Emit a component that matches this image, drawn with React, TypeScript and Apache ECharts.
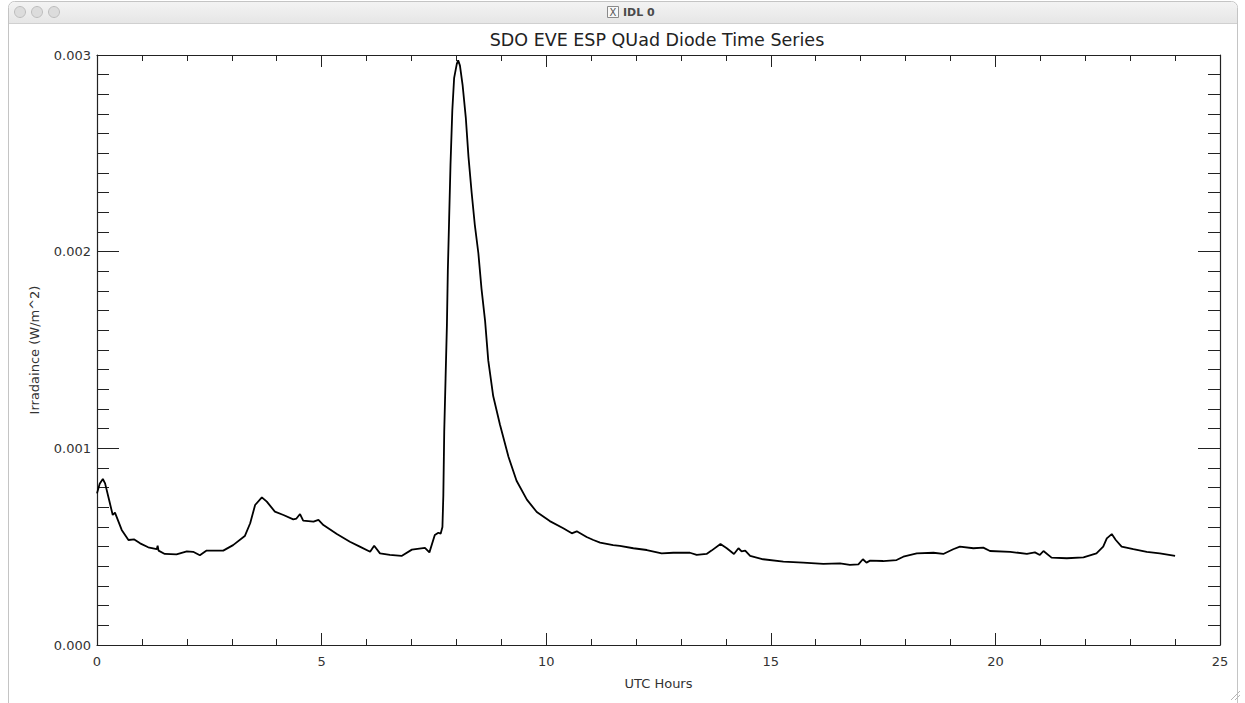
import React, { useEffect, useRef } from "react";
import * as echarts from "echarts";

const hours: number[] = [
  0.0, 0.06, 0.13, 0.18, 0.27, 0.35, 0.4, 0.55, 0.7, 0.83, 0.96, 1.14, 1.33, 1.35, 1.37, 1.51, 1.77, 2.0, 2.14, 2.29,
  2.44, 2.81, 3.03, 3.29, 3.41, 3.52, 3.67, 3.78, 3.96, 4.15, 4.37, 4.44, 4.52, 4.59, 4.82, 4.93, 5.04, 5.34, 5.63,
  5.85, 6.08, 6.17, 6.3, 6.52, 6.78, 7.01, 7.3, 7.4, 7.52, 7.6, 7.65, 7.69, 7.71, 7.73, 7.76, 7.79, 7.81, 7.84, 7.87,
  7.91, 7.95, 8.01, 8.04, 8.08, 8.14, 8.21, 8.27, 8.34, 8.41, 8.49, 8.56, 8.64, 8.71, 8.82, 8.97, 9.16, 9.34, 9.57,
  9.79, 10.08, 10.38, 10.57, 10.68, 10.9, 11.05, 11.2, 11.49, 11.64, 11.94, 12.24, 12.57, 12.83, 13.2, 13.35, 13.57,
  13.68, 13.88, 14.02, 14.18, 14.28, 14.35, 14.43, 14.54, 14.83, 15.28, 15.72, 16.17, 16.54, 16.76, 16.95, 17.05,
  17.13, 17.21, 17.5, 17.8, 17.95, 18.25, 18.62, 18.84, 19.06, 19.21, 19.51, 19.73, 19.88, 20.33, 20.7, 20.88, 20.99,
  21.07, 21.25, 21.59, 21.96, 22.25, 22.4, 22.48, 22.59, 22.68, 22.81, 23.07, 23.37, 23.66, 24.0,
];

const irradiance: number[] = [
  0.000771, 0.00082, 0.000844, 0.000822, 0.000737, 0.000661, 0.000673, 0.000585, 0.000534, 0.000537, 0.000517,
  0.000497, 0.000487, 0.000505, 0.00048, 0.000463, 0.000461, 0.000476, 0.000474, 0.000456, 0.00048, 0.00048,
  0.000508, 0.000554, 0.000619, 0.000712, 0.000751, 0.000729, 0.000678, 0.000661, 0.000639, 0.000643, 0.000666,
  0.000632, 0.000627, 0.000636, 0.00061, 0.000564, 0.000525, 0.0005, 0.000474, 0.000505, 0.000466, 0.000458,
  0.000453, 0.000485, 0.000494, 0.000471, 0.000559, 0.000571, 0.000566, 0.0006, 0.00076, 0.001084, 0.001357,
  0.001629, 0.001902, 0.002174, 0.002446, 0.002719, 0.002882, 0.002955, 0.002973, 0.002946, 0.002845, 0.002682,
  0.002482, 0.002301, 0.002138, 0.001992, 0.001811, 0.001647, 0.001447, 0.001266, 0.001121, 0.000957, 0.000835,
  0.000739, 0.000676, 0.00063, 0.000594, 0.000568, 0.000578, 0.000549, 0.000534, 0.000521, 0.000508, 0.000504,
  0.000492, 0.000483, 0.000466, 0.000469, 0.000469, 0.000458, 0.000463, 0.00048, 0.000514, 0.000492, 0.000463,
  0.000492, 0.000476, 0.00048, 0.000453, 0.000436, 0.000424, 0.000419, 0.000412, 0.000415, 0.000407, 0.00041,
  0.000436, 0.000419, 0.000429, 0.000427, 0.000432, 0.000449, 0.000466, 0.000469, 0.000463, 0.000487, 0.0005,
  0.000492, 0.000495, 0.000478, 0.000474, 0.000463, 0.000471, 0.000458, 0.000478, 0.000444, 0.000441, 0.000446,
  0.000466, 0.0005, 0.000542, 0.000564, 0.000534, 0.0005, 0.000487, 0.000474, 0.000466, 0.000453,
];

const xTicks = { min: 0, max: 25, interval: 5 };
const yTicks = { min: 0, max: 0.003, interval: 0.001 };

const titleText = "SDO EVE ESP QUad Diode Time Series";
const windowTitle = "IDL 0";
const xName = "UTC Hours";
const yName = "Irradaince (W/m^2)";

const FONT = "DejaVu Sans";
const AX = "#222";

export default function App() {
  const ref = useRef<HTMLDivElement>(null);
  useEffect(() => {
    if (!ref.current) return;
    const chart = echarts.init(ref.current, null, { renderer: "svg" });
    const data = hours.map((h, i) => [h, irradiance[i]]);
    const xBase = (show: boolean, pos: "bottom" | "top") => ({
      type: "value",
      position: pos,
      min: xTicks.min,
      max: xTicks.max,
      interval: xTicks.interval,
      axisLine: { show: true, onZero: false, lineStyle: { color: AX, width: 1.2 } },
      axisTick: { show: true, inside: true, length: 12, lineStyle: { color: AX, width: 1 } },
      minorTick: { show: true, splitNumber: 5, length: 6, lineStyle: { color: AX, width: 1 } },
      splitLine: { show: false },
      axisLabel: {
        show,
        margin: 10,
        color: "#333",
        fontSize: 13,
        fontFamily: FONT,
      },
      name: show ? xName : "",
      nameLocation: "middle",
      nameGap: 32,
      nameTextStyle: { color: "#333", fontSize: 13, fontFamily: FONT },
    });
    const yBase = (show: boolean, pos: "left" | "right") => ({
      type: "value",
      position: pos,
      min: yTicks.min,
      max: yTicks.max,
      interval: yTicks.interval,
      axisLine: { show: true, onZero: false, lineStyle: { color: AX, width: 1.2 } },
      axisTick: { show: true, inside: true, length: 22, lineStyle: { color: AX, width: 1 } },
      minorTick: { show: true, splitNumber: 10, length: 12, lineStyle: { color: AX, width: 1 } },
      splitLine: { show: false },
      axisLabel: {
        show,
        margin: 6,
        color: "#333",
        fontSize: 13,
        fontFamily: FONT,
        formatter: (v: number) => v.toFixed(3),
      },
      name: show ? yName : "",
      nameLocation: "middle",
      nameGap: 56,
      nameRotate: 90,
      nameTextStyle: { color: "#333", fontSize: 13, fontFamily: FONT },
    });
    chart.setOption({
      animation: false,
      backgroundColor: "#ffffff",
      title: {
        text: titleText,
        left: 652,
        textAlign: "center",
        top: 26,
        textStyle: { color: "#222", fontSize: 17.5, fontWeight: "normal", fontFamily: FONT },
      },
      grid: { left: 97, right: 25, top: 55, bottom: 58, containLabel: false },
      xAxis: [xBase(true, "bottom"), xBase(false, "top")],
      yAxis: [yBase(true, "left"), yBase(false, "right")],
      series: [
        {
          type: "line",
          data,
          xAxisIndex: 0,
          yAxisIndex: 0,
          showSymbol: false,
          symbol: "none",
          lineStyle: { color: "#000", width: 1.8 },
        },
      ],
      graphic: [
        {
          type: "rect",
          shape: { x: 8.5, y: 1.5, width: 1229, height: 720, r: [6, 6, 0, 0] },
          style: { fill: "none", stroke: "#c4c4c4", lineWidth: 1 },
          silent: true,
        },
        {
          type: "rect",
          shape: { x: 9, y: 2, width: 1228, height: 21, r: [6, 6, 0, 0] },
          style: {
            fill: new echarts.graphic.LinearGradient(0, 0, 0, 1, [
              { offset: 0, color: "#f3f3f3" },
              { offset: 1, color: "#e6e6e6" },
            ]),
          },
          silent: true,
        },
        {
          type: "line",
          shape: { x1: 9, y1: 23.5, x2: 1237, y2: 23.5 },
          style: { stroke: "#d0d0d0", lineWidth: 1 },
          silent: true,
        },
        ...[20, 37, 54].map((cx) => ({
          type: "circle",
          shape: { cx, cy: 12, r: 5.5 },
          style: { fill: "#dcdcdc", stroke: "#bdbdbd", lineWidth: 1 },
          silent: true,
        })),
        {
          type: "rect",
          shape: { x: 607.5, y: 6.5, width: 11, height: 11 },
          style: { fill: "#f8f8f8", stroke: "#8a8a8a", lineWidth: 1 },
          silent: true,
        },
        {
          type: "text",
          x: 613,
          y: 12,
          style: { text: "X", fill: "#555", fontSize: 10, fontFamily: FONT, align: "center", verticalAlign: "middle" },
          silent: true,
        },
        {
          type: "text",
          x: 623,
          y: 12,
          style: {
            text: windowTitle,
            fill: "#4a4a4a",
            fontSize: 11,
            fontWeight: "bold",
            fontFamily: FONT,
            align: "left",
            verticalAlign: "middle",
          },
          silent: true,
        },
        {
          type: "line",
          shape: { x1: 1231, y1: 700, x2: 1240, y2: 691 },
          style: { stroke: "#b5b5b5", lineWidth: 1 },
          silent: true,
        },
        {
          type: "line",
          shape: { x1: 1235, y1: 700, x2: 1240, y2: 695 },
          style: { stroke: "#b5b5b5", lineWidth: 1 },
          silent: true,
        },
      ],
    });
    return () => chart.dispose();
  }, []);
  return (
    <div
      ref={ref}
      style={{ position: "absolute", left: 0, top: 0, width: 1245, height: 703, background: "#fff" }}
    />
  );
}
